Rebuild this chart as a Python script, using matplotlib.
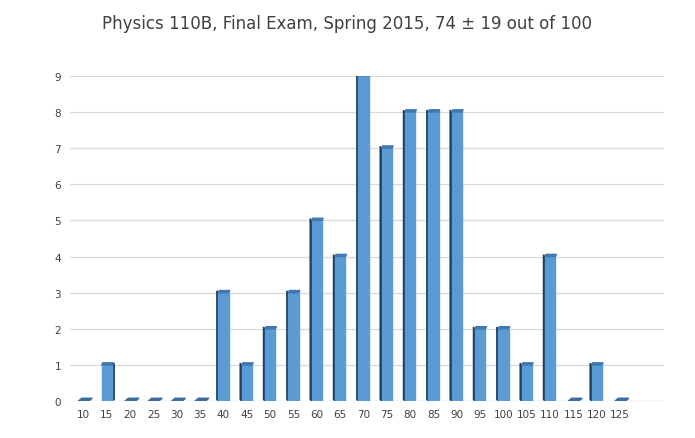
import numpy as np
import matplotlib.pyplot as plt
from matplotlib.patches import Polygon, Rectangle

# ===================== Data =====================
scores = [10, 15, 20, 25, 30, 35, 40, 45, 50, 55, 60, 65, 70, 75, 80, 85,
          90, 95, 100, 105, 110, 115, 120, 125]
counts = [0, 1, 0, 0, 0, 0, 3, 1, 2, 3, 5, 4, 9, 7, 8, 8, 8, 2, 2, 1, 4, 0, 1, 0]
title = "Physics 110B, Final Exam, Spring 2015, 74 \u00b1 19 out of 100"

front = "#5B9BD5"
side = "#1F3F5E"
top = "#3F78AE"

# ===================== Plot =====================
fig = plt.figure(figsize=(6.95, 4.39), dpi=100)
ax = fig.add_axes([0.10, 0.084, 0.856, 0.741])
ax.set_xlim(-0.6, 24.9)
ax.set_ylim(0, 9)

for yv in range(1, 10):
    ax.axhline(yv, color="#D9D9D9", lw=0.9, zorder=0)
ax.axhline(0, color="#BFBFBF", lw=0.9, zorder=0)

w = 0.45
d = 0.15
for i, c in enumerate(counts):
    x0 = i - w / 2
    if c == 0:
        ax.add_patch(Polygon([(x0, 0), (x0 + w, 0), (x0 + w + d, 0.08), (x0 + d, 0.08)],
                             closed=True, color="#3A6D9C", zorder=3))
        continue
    ax.add_patch(Rectangle((x0, 0), w, c, color=front, zorder=3))
    if i < 6:
        ax.add_patch(Polygon([(x0 + w, 0), (x0 + w + d * 0.6, 0.05), (x0 + w + d * 0.6, c + 0.05), (x0 + w, c)],
                             closed=True, color=side, zorder=2))
    else:
        ax.add_patch(Polygon([(x0, 0), (x0 - d * 0.4, 0.05), (x0 - d * 0.4, c + 0.05), (x0, c)],
                             closed=True, color=side, zorder=2))
    ax.add_patch(Polygon([(x0, c), (x0 + w, c), (x0 + w + 0.05, c + 0.06), (x0 + 0.05, c + 0.06)],
                         closed=True, color=top, zorder=4))

ax.set_xticks(range(len(scores)))
ax.set_xticklabels([str(s) for s in scores], fontsize=7.5, color="#404040")
ax.set_yticks(range(10))
ax.set_yticklabels([str(v) for v in range(10)], fontsize=7.5, color="#404040")
ax.tick_params(length=0, pad=6)
for s in ax.spines.values():
    s.set_visible(False)

fig.text(0.5, 0.945, title, ha="center", va="center", fontsize=12, color="#404040")
fig.savefig("out.png", dpi=100)
